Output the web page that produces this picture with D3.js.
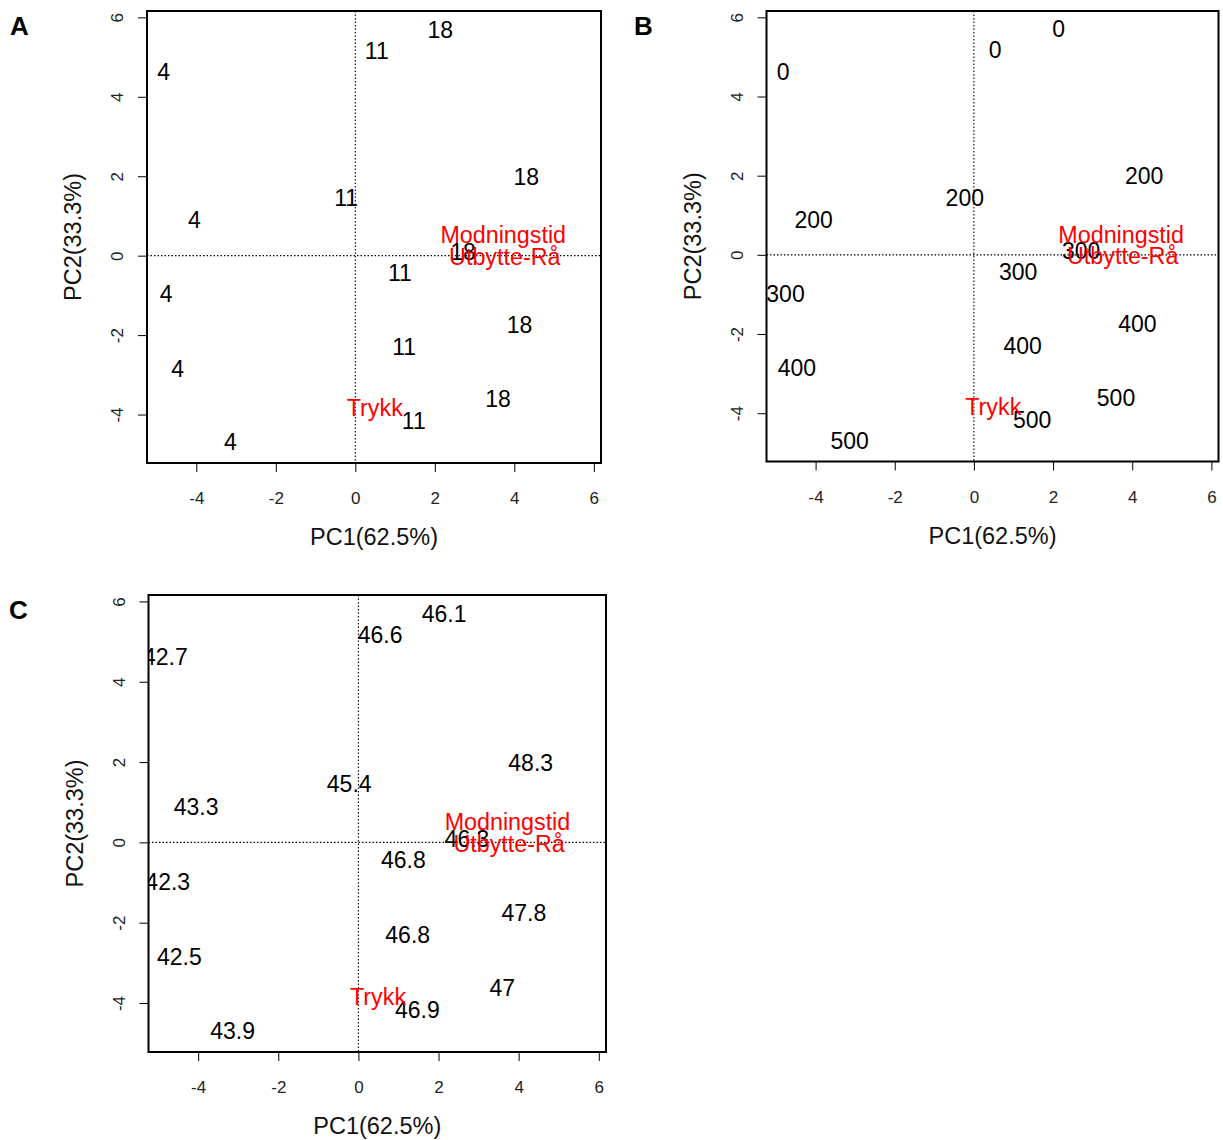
<!DOCTYPE html>
<html>
<head>
<meta charset="utf-8">
<script src="https://cdn.jsdelivr.net/npm/d3@7/dist/d3.min.js"></script>
<style>
  html, body { margin: 0; padding: 0; background: #fff; }
  svg { display: block; }
  text { font-family: "Liberation Sans", Arial, Helvetica, sans-serif; }
</style>
</head>
<body>
<svg id="chart" width="1223" height="1140"></svg>
<script>
// PCA scores of the 15 observations (same in every panel)
const pc1Scores = [2.14, 0.54, -4.82, 4.30, -0.23, -4.05, 2.71, 1.12, -4.76, 4.13, 1.23, -4.47, 3.59, 1.47, -3.14];
const pc2Scores = [5.70, 5.17, 4.63, 1.99, 1.45, 0.90, 0.10, -0.43, -0.97, -1.75, -2.29, -2.84, -3.61, -4.16, -4.69];

// Observation labels per panel
const labelsModning = ["18", "11", "4", "18", "11", "4", "18", "11", "4", "18", "11", "4", "18", "11", "4"];
const labelsTrykk = ["0", "0", "0", "200", "200", "200", "300", "300", "300", "400", "400", "400", "500", "500", "500"];
const labelsUtbytte = ["46.1", "46.6", "42.7", "48.3", "45.4", "43.3", "46.3", "46.8", "42.3", "47.8", "46.8", "42.5", "47", "46.9", "43.9"];

// Variable labels and their positions in the biplot
const varNames = ["Modningstid", "Utbytte-Rå", "Trykk"];
const varPC1 = [3.72, 3.76, 0.49];
const varPC2 = [0.52, -0.03, -3.83];

// Axis ticks and titles
const xTickValues = [-4, -2, 0, 2, 4, 6];
const yTickValues = [-4, -2, 0, 2, 4, 6];
const xTitle = "PC1(62.5%)";
const yTitle = "PC2(33.3%)";

const xDomain = [-5.24, 6.18];
const yDomain = [-5.22, 6.16];

const panels = [
  { letter: "A", labels: labelsModning, box: { left: 147, top: 11, right: 601, bottom: 463 }, letterXY: [10, 35] },
  { letter: "B", labels: labelsTrykk, box: { left: 766.5, top: 11, right: 1218.5, bottom: 461.5 }, letterXY: [634, 35] },
  { letter: "C", labels: labelsUtbytte, box: { left: 148.5, top: 595, right: 606, bottom: 1052 }, letterXY: [9, 619] }
];

const svg = d3.select("#chart");
svg.append("rect").attr("width", 1223).attr("height", 1140).attr("fill", "#fff");

const labelSize = 23;
const varSize = 23.3;
const tickSize = 17;
const titleSize = 23.5;

panels.forEach((p, i) => {
  const b = p.box;
  const x = d3.scaleLinear().domain(xDomain).range([b.left, b.right]);
  const y = d3.scaleLinear().domain(yDomain).range([b.bottom, b.top]);
  const g = svg.append("g");

  const clipId = "clip" + i;
  svg.append("clipPath").attr("id", clipId)
    .append("rect")
    .attr("x", b.left).attr("y", b.top)
    .attr("width", b.right - b.left).attr("height", b.bottom - b.top);

  // Panel letter
  g.append("text")
    .attr("x", p.letterXY[0]).attr("y", p.letterXY[1])
    .attr("font-family", "'Open Sans', 'Liberation Sans', sans-serif")
    .attr("font-weight", "bold")
    .attr("font-size", 26)
    .attr("fill", "#000")
    .text(p.letter);

  // Bottom axis
  const xAxis = d3.axisBottom(x).tickValues(xTickValues).tickSize(9).tickPadding(0).tickFormat(d3.format("d"));
  const gx = g.append("g").attr("transform", `translate(0,${b.bottom})`).call(xAxis);
  gx.select(".domain").remove();
  gx.selectAll(".tick line").attr("stroke", "#000").attr("stroke-width", 1);
  gx.selectAll(".tick text")
    .attr("y", 35).attr("dy", "0.36em")
    .attr("font-size", tickSize)
    .attr("font-family", "'Liberation Sans', Arial, sans-serif")
    .attr("fill", "#222")
    .text(d => d < 0 ? "-" + Math.abs(d) : String(d));

  // Left axis with labels parallel to the axis
  const yAxis = d3.axisLeft(y).tickValues(yTickValues).tickSize(9).tickPadding(0).tickFormat(d3.format("d"));
  const gy = g.append("g").attr("transform", `translate(${b.left},0)`).call(yAxis);
  gy.select(".domain").remove();
  gy.selectAll(".tick line").attr("stroke", "#000").attr("stroke-width", 1);
  gy.selectAll(".tick text")
    .attr("x", null).attr("dy", null)
    .attr("transform", "translate(-30,0) rotate(-90)")
    .attr("text-anchor", "middle")
    .attr("dy", "0.36em")
    .attr("font-size", tickSize)
    .attr("font-family", "'Liberation Sans', Arial, sans-serif")
    .attr("fill", "#222")
    .text(d => d < 0 ? "-" + Math.abs(d) : String(d));

  // Axis titles
  g.append("text")
    .attr("x", (b.left + b.right) / 2).attr("y", b.bottom + 74)
    .attr("dy", "0.36em")
    .attr("text-anchor", "middle")
    .attr("font-size", titleSize)
    .attr("fill", "#111")
    .text(xTitle);
  g.append("text")
    .attr("transform", `translate(${b.left - 74},${(b.top + b.bottom) / 2}) rotate(-90)`)
    .attr("dy", "0.36em")
    .attr("text-anchor", "middle")
    .attr("font-size", titleSize)
    .attr("fill", "#111")
    .text(yTitle);

  const inner = g.append("g").attr("clip-path", `url(#${clipId})`);

  // Dotted reference lines through the origin
  inner.append("line")
    .attr("x1", b.left).attr("x2", b.right).attr("y1", y(0)).attr("y2", y(0))
    .attr("stroke", "#000").attr("stroke-width", 1.1).attr("stroke-dasharray", "1.5,2");
  inner.append("line")
    .attr("y1", b.top).attr("y2", b.bottom).attr("x1", x(0)).attr("x2", x(0))
    .attr("stroke", "#000").attr("stroke-width", 1.1).attr("stroke-dasharray", "1.5,2");

  // Observation labels
  inner.selectAll("text.obs")
    .data(pc1Scores.map((v, k) => ({ px: v, py: pc2Scores[k], label: p.labels[k] })))
    .join("text")
    .attr("class", "obs")
    .attr("x", d => x(d.px)).attr("y", d => y(d.py))
    .attr("dy", "0.36em")
    .attr("text-anchor", "middle")
    .attr("font-size", labelSize)
    .attr("fill", "#000")
    .text(d => d.label);

  // Variable labels
  inner.selectAll("text.var")
    .data(varNames.map((n, k) => ({ px: varPC1[k], py: varPC2[k], name: n })))
    .join("text")
    .attr("class", "var")
    .attr("x", d => x(d.px)).attr("y", d => y(d.py))
    .attr("dy", "0.36em")
    .attr("text-anchor", "middle")
    .attr("font-size", varSize)
    .attr("fill", "#ff0000")
    .text(d => d.name);

  // Plot frame
  g.append("rect")
    .attr("x", b.left).attr("y", b.top)
    .attr("width", b.right - b.left).attr("height", b.bottom - b.top)
    .attr("fill", "none").attr("stroke", "#000").attr("stroke-width", 2);
});
</script>
</body>
</html>
